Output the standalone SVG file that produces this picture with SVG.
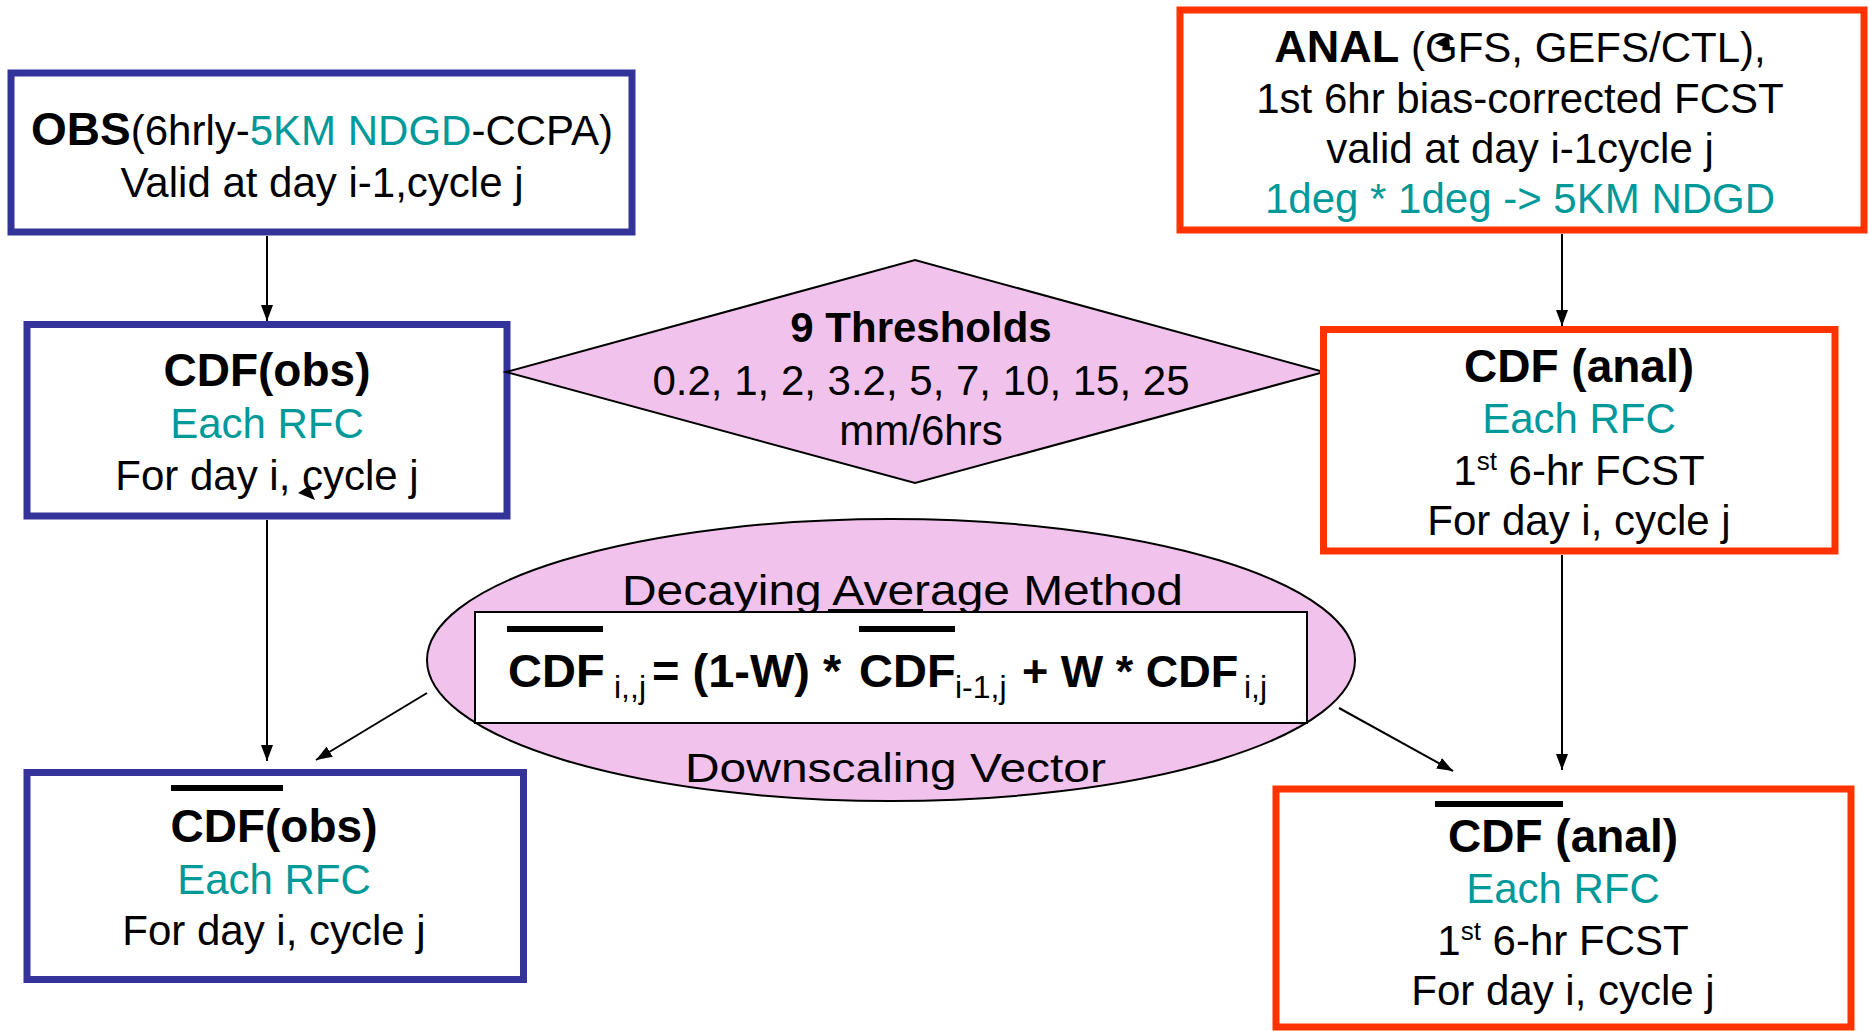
<svg xmlns="http://www.w3.org/2000/svg" width="1869" height="1031" viewBox="0 0 1869 1031">
<style>
text{font-family:"Liberation Sans",Arial,Helvetica,sans-serif;fill:#000}
.t{font-size:42px;text-anchor:middle}
.b{font-weight:bold}
.h{font-size:46px;font-weight:bold;text-anchor:middle}
.teal{fill:#009999}
.blue{fill:#fff;stroke:#333399;stroke-width:7}
.red{fill:#fff;stroke:#FF3300;stroke-width:7}
.pink{fill:#F1C3EC;stroke:#000;stroke-width:2}
.conn line{stroke:#000;stroke-width:2;marker-end:url(#ah)}
.f{font-size:47px;font-weight:bold}
.s{font-size:32px;font-weight:normal}
</style>
<defs>
<marker id="ah" markerUnits="userSpaceOnUse" markerWidth="16" markerHeight="12" refX="16" refY="6" orient="auto">
<path d="M0,0 L16,6 L0,12 z" fill="#000"/>
</marker>
</defs>

<g id="obs">
<rect class="blue" x="11" y="73" width="621" height="159"/>
<text class="t" x="322" y="145" font-size="43"><tspan class="b" font-size="46">OBS</tspan>(6hrly-<tspan class="teal">5KM NDGD</tspan>-CCPA)</text>
<text class="t" x="322" y="197">Valid at day i-1,cycle j</text>
</g>

<g id="anal">
<rect class="red" x="1180" y="10" width="684" height="220"/>
<text class="t" x="1520" y="62"><tspan class="b" font-size="45">ANAL</tspan> (GFS, GEFS/CTL),</text>
<text class="t" x="1520" y="113">1st 6hr bias-corrected FCST</text>
<text class="t" x="1520" y="163">valid at day i-1cycle j</text>
<text class="t teal" x="1520" y="213">1deg * 1deg -&gt; 5KM NDGD</text>
<polygon points="1435,43 1449,35 1450,50" fill="#000"/>
</g>

<g id="cdf-obs">
<rect class="blue" x="27" y="324.5" width="480" height="191.5"/>
<text class="h" x="267" y="386">CDF(obs)</text>
<text class="t teal" x="267" y="438">Each RFC</text>
<text class="t" x="267" y="490">For day i, cycle j</text>
<polygon points="298,493 309,486 315,500" fill="#000"/>
</g>

<g id="thresholds">
<polygon class="pink" points="506,372 915,260 1324,372 915,483"/>
<text class="t b" x="921" y="342">9 Thresholds</text>
<text class="t" x="921" y="395">0.2, 1, 2, 3.2, 5, 7, 10, 15, 25</text>
<text class="t" x="921" y="445">mm/6hrs</text>
</g>

<g id="cdf-anal">
<rect class="red" x="1323.5" y="329.5" width="511.5" height="221.5"/>
<text class="h" x="1579" y="382">CDF (anal)</text>
<text class="t teal" x="1579" y="433">Each RFC</text>
<text class="t" x="1579" y="485">1<tspan font-size="26" dy="-15">st</tspan><tspan dy="15"> 6-hr FCST</tspan></text>
<text class="t" x="1579" y="535">For day i, cycle j</text>
</g>

<g id="decaying">
<ellipse class="pink" cx="891" cy="660" rx="464" ry="141"/>
<text font-size="42" x="622" y="605" textLength="561" lengthAdjust="spacingAndGlyphs">Decaying Average Method</text>
<rect x="475" y="612" width="832" height="111" fill="#fff" stroke="#000" stroke-width="2"/>
<rect x="828" y="609" width="95" height="4" fill="#000"/>
<rect x="507" y="626" width="96" height="6" fill="#000"/>
<rect x="859" y="626" width="96" height="6" fill="#000"/>
<text class="f" y="687"><tspan x="508">CDF</tspan><tspan class="s" x="614" y="698">i,,j</tspan><tspan x="652" y="687">= (1-W) *</tspan><tspan x="859">CDF</tspan><tspan class="s" x="955" y="698">i-1,j</tspan><tspan x="1022" y="687" font-size="45">+ W * CDF</tspan><tspan class="s" x="1244" y="698">i,j</tspan></text>
<text font-size="40" x="685" y="782" textLength="421" lengthAdjust="spacingAndGlyphs">Downscaling Vector</text>
</g>

<g id="cdf-obs-avg">
<rect class="blue" x="27" y="772.5" width="496.5" height="207"/>
<rect x="171" y="785" width="112" height="6" fill="#000"/>
<text class="h" x="274" y="842">CDF(obs)</text>
<text class="t teal" x="274" y="894">Each RFC</text>
<text class="t" x="274" y="945">For day i, cycle j</text>
</g>

<g id="cdf-anal-avg">
<rect class="red" x="1276" y="789" width="575" height="238"/>
<rect x="1435" y="801" width="128" height="6" fill="#000"/>
<text class="h" x="1563" y="852">CDF (anal)</text>
<text class="t teal" x="1563" y="903">Each RFC</text>
<text class="t" x="1563" y="955">1<tspan font-size="26" dy="-15">st</tspan><tspan dy="15"> 6-hr FCST</tspan></text>
<text class="t" x="1563" y="1005">For day i, cycle j</text>
</g>

<g id="connectors" class="conn">
<line x1="267" y1="236" x2="267" y2="321"/>
<line x1="267" y1="520" x2="267" y2="761"/>
<line x1="1562" y1="234" x2="1562" y2="326"/>
<line x1="1562" y1="555" x2="1562" y2="770"/>
<line x1="427" y1="693" x2="316" y2="760"/>
<line x1="1339" y1="708" x2="1453" y2="771"/>
</g>
</svg>
